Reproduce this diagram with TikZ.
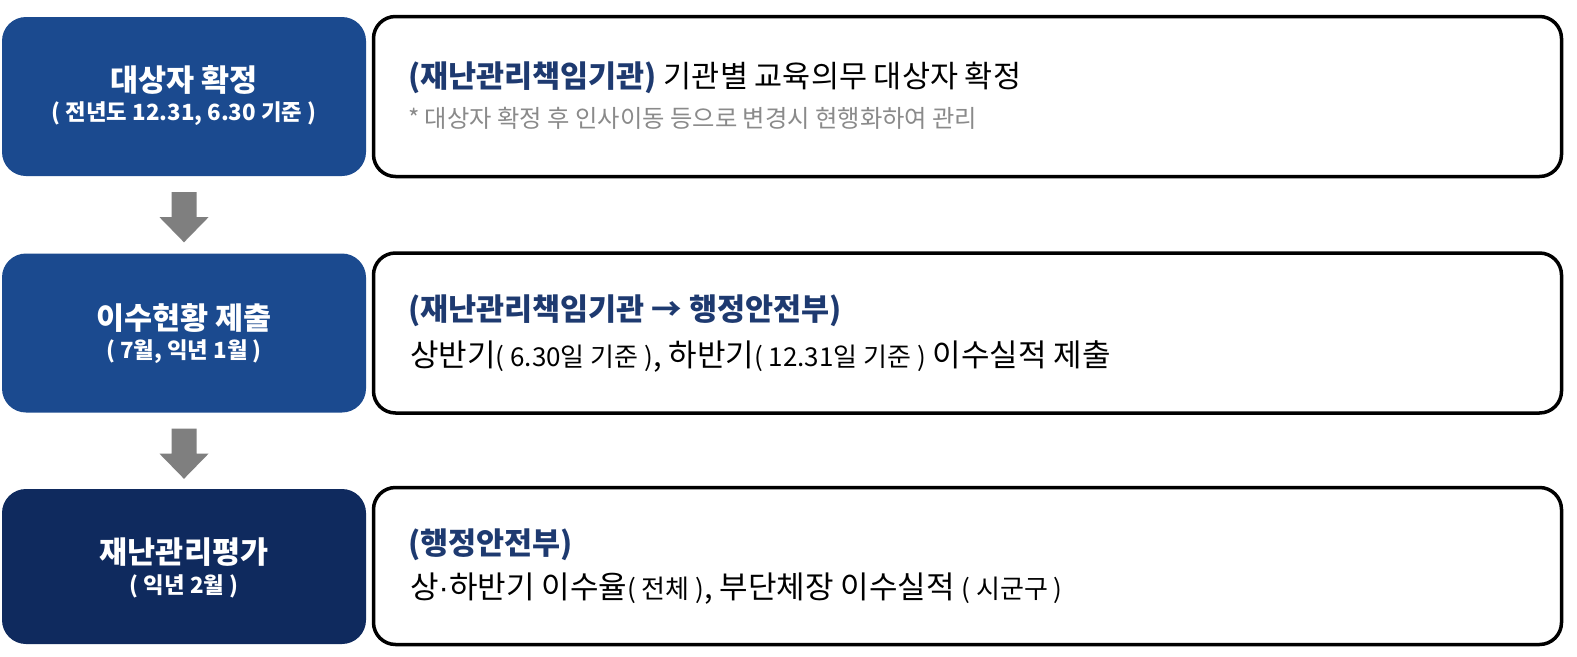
\documentclass[tikz,border=0pt]{standalone}
\usepackage{fontspec}
\setmainfont{Noto Sans CJK KR}
\newfontfamily\latinfont{Liberation Sans}
\usetikzlibrary{calc}
\definecolor{boxblue}{HTML}{1B4A8F}
\definecolor{boxnavy}{HTML}{0F2A5E}
\definecolor{headblue}{HTML}{1E3A70}
\definecolor{notegray}{HTML}{8A8A8A}
\definecolor{arrowgray}{HTML}{7F7F7F}
\newcommand{\smallpar}[1]{{\fontsize{26}{30}\selectfont #1}}
\begin{document}
\begin{tikzpicture}[x=1pt,y=-1pt,
  lbox/.style={rectangle, rounded corners=24pt, minimum width=364pt, inner sep=0pt, text=white, align=center},
  rbox/.style={rectangle, rounded corners=22pt, draw=black, line width=3.5pt, fill=white, minimum width=1188pt, inner sep=0pt},
  ltitle/.style={font=\fontsize{30.5}{36}\selectfont\bfseries, text=white, inner sep=0pt},
  lsub/.style={font=\fontsize{22.3}{27}\selectfont\bfseries, text=white, inner sep=0pt},
  rhead/.style={anchor=west, inner sep=0pt, font=\fontsize{30.5}{36}\selectfont},
  rbody/.style={anchor=west, inner sep=0pt, font=\fontsize{31}{36}\selectfont},
  rnote/.style={anchor=west, inner sep=0pt, font=\fontsize{24.3}{28}\selectfont, text=notegray},
  flowarrow/.style={fill=arrowgray, draw=none}
]
\useasboundingbox (0,0) rectangle (1577,656);
\fill[white] (0,0) rectangle (1577,656);

% left boxes
\node[lbox, fill=boxblue, minimum height=159pt] (l1) at (184,96.5) {};
\node[lbox, fill=boxblue, minimum height=159pt] (l2) at (184,333) {};
\node[lbox, fill=boxnavy, minimum height=155pt] (l3) at (184,566.5) {};

% right boxes
\node[rbox, minimum height=160pt] (r1) at (967.5,96.5) {};
\node[rbox, minimum height=160pt] (r2) at (967.5,333) {};
\node[rbox, minimum height=157pt] (r3) at (967.5,566) {};

% left texts
\node[ltitle] (t1) at (184,80) {대상자 확정};
\node[lsub] (s1) at (184,114) {( 전년도 12.31, 6.30 기준 )};
\node[ltitle] (t2) at (184,318) {이수현황 제출};
\node[lsub] (s2) at (184,352) {( 7월, 익년 1월 )};
\node[ltitle] (t3) at (184,552) {재난관리평가};
\node[lsub] (s3) at (184,586) {( 익년 2월 )};

% arrows
\fill[flowarrow] ($(l1.south)+(-12.5,16)$) -- ($(l1.south)+(12.5,16)$) -- ($(l1.south)+(12.5,41)$) -- ($(l1.south)+(24.5,41)$) -- ($(l2.north)+(0,-11)$) -- ($(l1.south)+(-24.5,41)$) -- ($(l1.south)+(-12.5,41)$) -- cycle;
\fill[flowarrow] ($(l2.south)+(-12.5,16)$) -- ($(l2.south)+(12.5,16)$) -- ($(l2.south)+(12.5,41)$) -- ($(l2.south)+(24.5,41)$) -- ($(l3.north)+(0,-10)$) -- ($(l2.south)+(-24.5,41)$) -- ($(l2.south)+(-12.5,41)$) -- cycle;

% right texts
\node[rhead] (h1) at (408,78) {\textcolor{headblue}{\bfseries (재난관리책임기관)} 기관별 교육의무 대상자 확정};
\node[rnote] (n1) at (408,118) {* 대상자 확정 후 인사이동 등으로 변경시 현행화하여 관리};
\node[rhead] (h2) at (408,311) {\textcolor{headblue}{\bfseries (재난관리책임기관 → 행정안전부)}};
\node[rbody] (b2) at (410,357) {상반기\smallpar{( 6.30일 기준 )}, 하반기\smallpar{( 12.31일 기준 )} 이수실적 제출};
\node[rhead] (h3) at (408,545) {\textcolor{headblue}{\bfseries (행정안전부)}};
\node[rbody] (b3) at (410,589) {상{\latinfont ·}하반기 이수율\smallpar{( 전체 )}, 부단체장 이수실적 \smallpar{( 시군구 )}};
\end{tikzpicture}
\end{document}
